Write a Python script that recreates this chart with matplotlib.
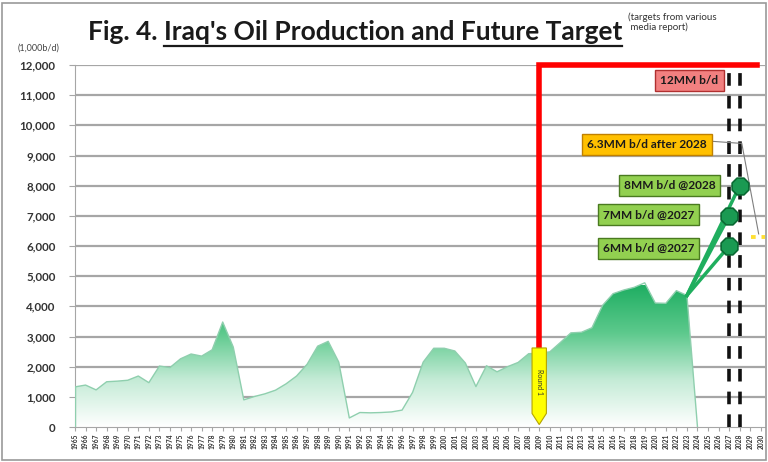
import numpy as np
import matplotlib
matplotlib.use("Agg")
import matplotlib.pyplot as plt
from matplotlib.colors import LinearSegmentedColormap
from matplotlib.patches import Polygon, Rectangle
from matplotlib.lines import Line2D

# ---------------- data ----------------
years = list(range(1965, 2025))
production = [1330, 1390, 1230, 1500, 1520, 1550, 1690, 1470, 2020, 1970,
              2260, 2420, 2350, 2560, 3480, 2650, 900, 1010, 1100, 1220,
              1430, 1690, 2080, 2680, 2840, 2150, 300, 480, 470, 480,
              500, 560, 1150, 2150, 2610, 2610, 2520, 2120, 1340, 2030,
              1830, 2000, 2140, 2430, 2450, 2490, 2800, 3120, 3140, 3290,
              4030, 4420, 4540, 4630, 4780, 4110, 4100, 4520, 4360, 0]
target_years = [2027, 2027, 2028]
target_values = [6000, 7000, 8000]
target_labels = ["6MM b/d @2027", "7MM b/d @2027", "8MM b/d @2028"]
start_year, start_value = 2023, 4360
max_target = 12000
after_value = 6300
round1_year = 2009
round1_top = 2620
tick_years = list(range(1965, 2031))
yticks = list(range(0, 13000, 1000))

plt.rcParams['font.family'] = ['Lato', 'DejaVu Sans']

fig = plt.figure(figsize=(7.68, 4.62), dpi=100)
ax = fig.add_axes([75/768, 1-427/462, 690/768, (427-65)/462])
ax.set_xlim(1965, 2030.4)
ax.set_ylim(0, 12000)

# grid
for v in yticks[1:]:
    ax.axhline(v, color='#a6a6a6', lw=1.6, zorder=1)

# gradient area
x = np.array(years, dtype=float)
y = np.array(production, dtype=float)
poly_x = np.concatenate([[x[0]], x, [x[-1]]])
poly_y = np.concatenate([[0], y, [0]])
poly = Polygon(np.column_stack([poly_x, poly_y]), closed=True, facecolor='none',
               edgecolor='none')
ax.add_patch(poly)
cmap = LinearSegmentedColormap.from_list('g', ['#ffffff', '#c4ebd6', '#5cc98c', '#1fae62'])
grad = np.linspace(0, 1, 256).reshape(-1, 1)
im = ax.imshow(grad, extent=[1965, 2025, 0, 4700], origin='lower', cmap=cmap,
               aspect='auto', zorder=2)
im.set_clip_path(poly)
ax.plot(x, y, color='#8fcfae', lw=1.0, zorder=3)
ax.plot([x[0], x[0]], [0, y[0]], color='#8fcfae', lw=1.0, zorder=3)

# double dashed lines
for xd in (2027, 2028):
    ax.plot([xd, xd], [0, 11800], color='#111111', lw=2.6, dashes=(3.5, 2.8), zorder=4)

# red line
ax.plot([round1_year, round1_year, 2029.6], [round1_top, max_target, max_target],
        color='#ff0000', lw=4, solid_joinstyle='miter', zorder=5, clip_on=False)

# yellow round 1 callout
yb = Polygon([(round1_year-0.68, round1_top), (round1_year+0.68, round1_top),
              (round1_year+0.68, 450), (round1_year, 80), (round1_year-0.68, 450)],
             closed=True, facecolor='#ffff00', edgecolor='#b5a300', lw=0.8, zorder=6)
ax.add_patch(yb)
ax.text(round1_year, 1500, "Round 1", rotation=270, ha='center', va='center',
        fontsize=5, zorder=7, color='#333333')

# green lines and markers
for ty, tv in zip(target_years, target_values):
    ax.plot([start_year, ty], [start_value, tv], color='#1fae5e', lw=2.5, zorder=6)
ax.scatter(target_years, target_values, marker='8', s=170, facecolor='#1a9a52',
           edgecolor='#0a6a33', lw=1.2, zorder=8)

# thin line to after 2028 & yellow dots
ax.plot([2025.0, 2028.2, 2029.8], [9480, 9400, 6400], color='#7f7f7f', lw=0.8, zorder=6)
ax.plot([2029.1, 2030.4], [after_value, after_value], color='#ffe033', lw=2.8,
        dashes=(1.2, 1.5), zorder=6, clip_on=False)

# label boxes
def box_label(xr, yc, text, fc, ec, fs=8.6):
    ax.text(xr, yc, text, ha='right', va='center', fontsize=fs, fontweight='bold',
            color='#1a1a1a', zorder=9,
            bbox=dict(boxstyle='square,pad=0.42', fc=fc, ec=ec, lw=1.0))

box_label(2026.0, 11500, "12MM b/d", '#f28080', '#b03030')
box_label(2024.9, 9350, "6.3MM b/d after 2028", '#ffc000', '#c08000')
box_label(2025.7, 8020, target_labels[2], '#92d050', '#4a7a20')
box_label(2023.7, 7030, target_labels[1], '#92d050', '#4a7a20')
box_label(2023.7, 5930, target_labels[0], '#92d050', '#4a7a20')

# axes styling
for s in ('top', 'right'):
    ax.spines[s].set_visible(False)
ax.spines['left'].set_color('#a6a6a6')
ax.spines['bottom'].set_color('#a6a6a6')
ax.set_yticks(yticks)
ax.set_yticklabels([f"{v:,}" for v in yticks], fontsize=8.3, fontweight='bold',
                   color='#333333')
ax.set_xticks(tick_years)
ax.set_xticklabels([str(t) for t in tick_years], rotation=90, fontsize=4.8,
                   fontweight='bold', color='#333333')
ax.tick_params(axis='y', length=4, color='#a6a6a6', pad=10)
ax.tick_params(axis='x', length=3, color='#a6a6a6', pad=2)

# texts
fig.text(18/768, 1-48/462, "(1,000b/d)", fontsize=6.5, color='#444444', va='center')
fig.text(628/768, 1-22/462, "(targets from various\n media report)", fontsize=7,
         color='#333333', va='center', linespacing=1.1)
t1 = fig.text(88/768, 1-32/462, "Fig. 4. ", fontsize=19, fontweight='bold',
              color='#1a1a1a', va='center')
fig.canvas.draw()
r = fig.canvas.get_renderer()
bb1 = t1.get_window_extent(r)
t2 = fig.text(bb1.x1/768, 1-32/462, "Iraq's Oil Production and Future Target",
              fontsize=19, fontweight='bold', color='#1a1a1a', va='center')
fig.canvas.draw()
bb2 = t2.get_window_extent(r)
fig.add_artist(Line2D([bb2.x0/768, bb2.x1/768], [1-46/462, 1-46/462],
                      color='#1a1a1a', lw=1.6))

# outer border
fig.add_artist(Rectangle((0.003, 0.004), 0.994, 0.99, transform=fig.transFigure,
                         fill=False, edgecolor='#9a9a9a', lw=1.2))

fig.savefig("out.png", dpi=100)
